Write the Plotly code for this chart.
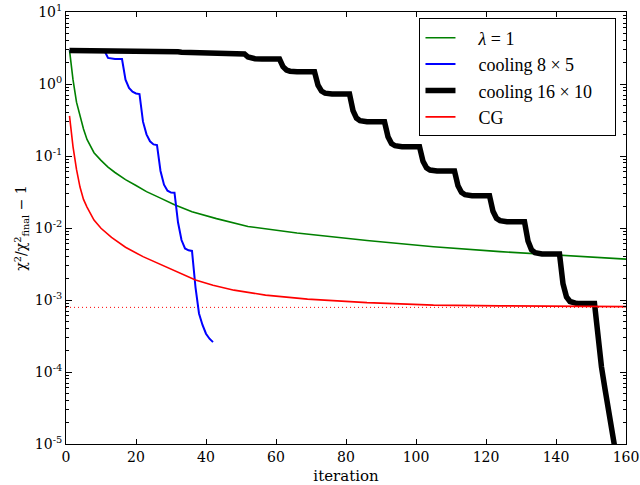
import plotly.graph_objects as go

# ---- data ----
green_x = [1, 2, 3, 4, 5, 6, 7, 8, 10, 12, 14, 17, 20, 23, 27, 31, 36, 43, 52, 66, 86, 105, 124, 143, 160]
green_y = [2.95, 1.15, 0.56, 0.35, 0.237, 0.17, 0.135, 0.111, 0.087, 0.07, 0.059, 0.047, 0.039, 0.032,
           0.026, 0.021, 0.0168, 0.0135, 0.0105, 0.0085, 0.0067, 0.0055, 0.0047, 0.0041, 0.0037]

blue_x = [1, 11, 12, 13, 14, 16, 17, 18, 19, 20, 21, 22, 23, 24, 25, 26, 27, 28, 29, 30, 31,
          32, 33, 34, 35, 36, 37, 38, 39, 40, 41, 42]
blue_y = [2.90, 2.90, 2.30, 2.24, 2.22, 2.22, 1.15, 0.88, 0.78, 0.74, 0.726, 0.30, 0.20, 0.16, 0.145,
          0.142, 0.062, 0.040, 0.033, 0.031, 0.0309, 0.012, 0.0068, 0.0052, 0.0049, 0.0048, 0.0015,
          0.00065, 0.00045, 0.00034, 0.00029, 0.00026]

black_x = [1, 11, 12, 21, 22, 31,
           32, 33, 34, 36, 41,
           42, 43, 44, 46, 51,
           52, 53, 54, 56, 61,
           62, 63, 64, 66, 71,
           72, 73, 74, 76, 81,
           82, 83, 84, 86, 91,
           92, 93, 94, 96, 101,
           102, 103, 104, 106, 111,
           112, 113, 114, 116, 121,
           122, 123, 124, 126, 131,
           132, 133, 134, 136, 141,
           142, 143, 144, 146, 151,
           152, 153, 154, 155, 156, 157, 158]
black_y = [2.92, 2.92, 2.91, 2.91, 2.90, 2.90,
           2.81, 2.77, 2.76, 2.75, 2.75,
           2.67, 2.63, 2.615, 2.61, 2.61,
           2.37, 2.27, 2.24, 2.22, 2.22,
           1.744, 1.563, 1.507, 1.48, 1.48,
           0.966, 0.797, 0.747, 0.726, 0.726,
           0.4266, 0.336, 0.31, 0.299, 0.299,
           0.1853, 0.1493, 0.139, 0.1346, 0.1346,
           0.0845, 0.0685, 0.0638, 0.0619, 0.0619,
           0.0386, 0.0312, 0.029, 0.0281, 0.0281,
           0.01706, 0.01363, 0.01265, 0.01224, 0.01224,
           0.00658, 0.00498, 0.00454, 0.00436, 0.00436,
           0.00168, 0.0011, 0.000953, 0.000893, 0.000893,
           2.6e-4, 1.17e-4, 5.8e-5, 3.0e-5, 1.6e-5, 8e-6, 4e-6]

red_x = [1, 2, 3, 4, 5, 6, 8, 10, 13, 17, 22, 27, 32, 37, 42, 48, 57, 69, 86, 105, 124, 142, 160]
red_y = [0.36, 0.135, 0.065, 0.037, 0.025, 0.0195, 0.0129, 0.0099, 0.0074, 0.0054, 0.0040, 0.0031,
         0.0024, 0.0019, 0.0016, 0.00137, 0.00117, 0.00103, 0.00092, 0.00085, 0.00083, 0.00082, 0.00081]

floor_x = [0, 160]
floor_y = [7.9e-4, 7.9e-4]

x_ticks = [0, 20, 40, 60, 80, 100, 120, 140, 160]
y_exponents = [-5, -4, -3, -2, -1, 0, 1]

names = ["\u2003<i>λ</i> = 1\u2003", "\u2003cooling 8 × 5\u2003", "\u2003cooling 16 × 10\u2003", "\u2003CG\u2003"]

fig = go.Figure()
fig.add_trace(go.Scatter(x=floor_x, y=floor_y, mode="lines", showlegend=False,
                         line=dict(color="#ff0000", width=1, dash="1px,3px")))
fig.add_trace(go.Scatter(x=green_x, y=green_y, mode="lines", name=names[0],
                         line=dict(color="#008000", width=1.6)))
fig.add_trace(go.Scatter(x=blue_x, y=blue_y, mode="lines", name=names[1],
                         line=dict(color="#0000ff", width=2)))
fig.add_trace(go.Scatter(x=black_x, y=black_y, mode="lines", name=names[2],
                         line=dict(color="#000000", width=5.5)))
fig.add_trace(go.Scatter(x=red_x, y=red_y, mode="lines", name=names[3],
                         line=dict(color="#ff0000", width=1.6)))

minor_vals = [m * 10.0 ** e for e in range(-5, 1) for m in range(2, 10)]

fig.update_layout(
    width=640, height=485, autosize=False,
    margin=dict(l=66, r=14, t=12, b=41),
    paper_bgcolor="white", plot_bgcolor="white",
    font=dict(family="DejaVu Serif", size=14, color="black"),
    legend=dict(x=0.983, y=0.985, xanchor="right", yanchor="top",
                bordercolor="black", borderwidth=1, bgcolor="white",
                font=dict(family="Liberation Serif", size=18),
                tracegroupgap=0, itemwidth=30),
    xaxis=dict(range=[0, 160], tickvals=x_ticks, ticktext=[str(v) for v in x_ticks],
               ticks="inside", ticklen=5, tickcolor="black", mirror="allticks",
               showline=True, linecolor="black", linewidth=1, showgrid=False, zeroline=False,
               automargin=False, ticklabeloverflow="allow",
               title=dict(text="iteration", font=dict(size=15), standoff=6)),
    yaxis=dict(type="log", range=[-5, 1],
               tickvals=[10.0 ** e for e in y_exponents],
               ticktext=["10<sup>%d</sup>" % e for e in y_exponents],
               ticks="inside", ticklen=6, tickcolor="black", mirror="allticks",
               showline=True, linecolor="black", linewidth=1, showgrid=False, zeroline=False,
               automargin=False, ticklabeloverflow="allow",
               minor=dict(tickvals=minor_vals, ticks="inside", ticklen=3, tickcolor="black",
                          showgrid=False),
               title=dict(text="χ<sup>2</sup>/χ<sup>2</sup><sub>final</sub> − 1",
                          font=dict(size=14), standoff=4)),
)

# remove the browser's default 8px body margin so the figure sits at the window origin
fig.write_html("out.html", config={"displayModeBar": False},
               post_script="document.body.style.margin='0';document.body.style.overflow='hidden';")
